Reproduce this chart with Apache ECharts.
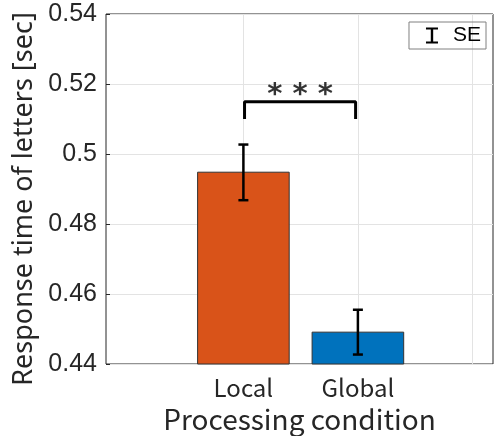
<!DOCTYPE html>
<html>
<head>
<meta charset="utf-8">
<script src="https://cdn.jsdelivr.net/npm/echarts@6/dist/echarts.min.js"></script>
<style>
  html, body { margin: 0; padding: 0; background: #fff; }
  #chart { width: 503px; height: 436px; }
</style>
</head>
<body>
<div id="chart"></div>
<script>
var categories = ['Local', 'Global'];
var xPos = [2, 3];
var means = [0.4948, 0.4491];
var seLow = [0.4868, 0.4427];
var seHigh = [0.5027, 0.4555];
var barColors = ['#D95319', '#0072BD'];
var bracketX = [2.01, 2.01, 2.98, 2.98];
var bracketY = [0.5100, 0.5149, 0.5149, 0.5100];
var starLabel = '* * *';
var starY = 0.5168;

var myChart = echarts.init(document.getElementById('chart'));

var barData = xPos.map(function (x, i) { return [x, means[i]]; });
var errData = xPos.map(function (x, i) { return [x, seLow[i], seHigh[i]]; });
var bracketData = bracketX.map(function (x, i) { return [x, bracketY[i]]; });

var option = {
    animation: false,
    grid: {
        left: 106, right: 10, top: 14, bottom: 72,
        containLabel: false,
        outerBoundsMode: 'none',
        show: true, borderColor: '#262626', borderWidth: 1
    },
    legend: {
        data: [{ name: 'SE', icon: 'path://M0,0H12V2H7.2V14H12V16H0V14H4.8V2H0Z' }],
        right: 17, top: 22,
        itemWidth: 12, itemHeight: 16,
        itemGap: 0,
        padding: [3, 5, 3, 17],
        borderColor: '#808080', borderWidth: 1,
        selectedMode: false,
        textStyle: { fontFamily: 'Liberation Sans', fontSize: 21, color: '#000', padding: [0, 0, 0, 10] }
    },
    xAxis: {
        type: 'value',
        min: 0.8, max: 4.18,
        name: 'Processing condition',
        nameLocation: 'middle',
        nameGap: 39,
        nameTextStyle: { fontFamily: 'Noto Sans CJK JP', fontSize: 28, color: '#262626' },
        axisLine: { show: false },
        axisTick: { show: false, customValues: [2, 3, 4] },
        axisLabel: {
            customValues: xPos,
            margin: 12,
            fontFamily: 'Noto Sans CJK JP', fontSize: 24, color: '#262626',
            formatter: function (v) {
                var i = xPos.indexOf(v);
                return i >= 0 ? categories[i] : '';
            }
        },
        splitLine: { show: true, lineStyle: { color: '#e3e3e3', width: 1 } }
    },
    yAxis: {
        type: 'value',
        min: 0.44, max: 0.54, interval: 0.02,
        name: 'Response time of letters [sec]',
        nameLocation: 'middle',
        nameGap: 66,
        nameTextStyle: { fontFamily: 'Noto Sans', fontSize: 27, color: '#262626', padding: [0, 20, 0, 0] },
        axisLine: { show: false },
        axisTick: { show: true, inside: true, length: 4, lineStyle: { color: '#262626' } },
        axisLabel: {
            margin: 9,
            fontFamily: 'Liberation Sans', fontSize: 25, color: '#262626',
            formatter: function (v) {
                var s = Math.round(v * 100) / 100;
                return String(s);
            }
        },
        splitLine: { show: true, lineStyle: { color: '#e3e3e3', width: 1 } }
    },
    series: [{
        name: 'bars',
        type: 'custom',
        data: barData,
        renderItem: function (params, api) {
            var top = api.coord([api.value(0), api.value(1)]);
            var base = api.coord([api.value(0), 0.44]);
            var w = api.size([0.8, 0])[0];
            return {
                type: 'rect',
                shape: { x: top[0] - w / 2, y: top[1], width: w, height: base[1] - top[1] },
                style: { fill: barColors[params.dataIndex], stroke: '#333', lineWidth: 1 }
            };
        },
        z: 2
    }, {
        name: 'SE',
        type: 'custom',
        data: errData,
        itemStyle: { color: '#000' },
        renderItem: function (params, api) {
            var x = api.value(0);
            var lo = api.coord([x, api.value(1)]);
            var hi = api.coord([x, api.value(2)]);
            var cap = 5;
            var st = { stroke: '#000', lineWidth: 2.5 };
            return {
                type: 'group',
                children: [
                    { type: 'line', shape: { x1: lo[0], y1: lo[1], x2: hi[0], y2: hi[1] }, style: st },
                    { type: 'line', shape: { x1: hi[0] - cap, y1: hi[1], x2: hi[0] + cap, y2: hi[1] }, style: st },
                    { type: 'line', shape: { x1: lo[0] - cap, y1: lo[1], x2: lo[0] + cap, y2: lo[1] }, style: st }
                ]
            };
        },
        z: 3
    }, {
        name: 'bracket',
        type: 'line',
        data: bracketData,
        symbol: 'none',
        lineStyle: { color: '#000', width: 3 },
        z: 3
    }, {
        name: 'stars',
        type: 'scatter',
        data: [[(bracketX[0] + bracketX[3]) / 2, starY]],
        symbolSize: 0,
        label: {
            show: true,
            formatter: starLabel,
            position: 'inside',
            fontFamily: 'DejaVu Sans',
            fontSize: 29,
            fontWeight: 'bold',
            color: '#000'
        },
        z: 4
    }]
};

myChart.setOption(option);
</script>
</body>
</html>
